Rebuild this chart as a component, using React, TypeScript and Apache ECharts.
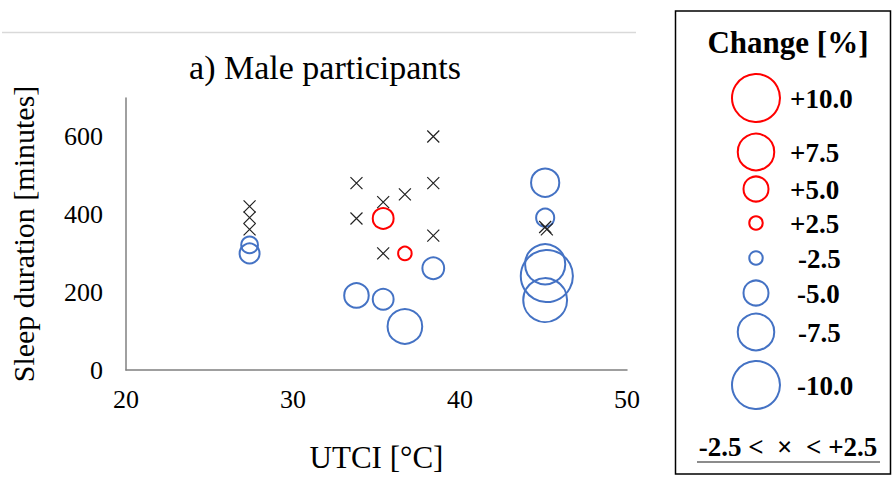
import React, { useEffect, useRef } from "react";
import * as echarts from "echarts";

// Crosses: change between -2.5 and +2.5 [UTCI °C, sleep minutes]
const crossPoints: number[][] = [
  [27.4, 421], [27.4, 392], [27.4, 362],
  [33.8, 481], [33.8, 390],
  [35.4, 432], [35.4, 300],
  [36.7, 452],
  [38.4, 601], [38.4, 481], [38.4, 346],
  [45.1, 368], [45.2, 362],
];

// Positive change bubbles [UTCI, minutes, change %]
const positivePoints: number[][] = [
  [35.4, 390, 4.1],
  [36.7, 300, 2.5],
];

// Negative change bubbles [UTCI, minutes, change %]
const negativePoints: number[][] = [
  [27.4, 322, -3.2],
  [27.4, 300, -3.9],
  [38.4, 262, -4.3],
  [33.8, 192, -4.9],
  [35.4, 182, -4.1],
  [36.7, 112, -7.1],
  [45.1, 482, -5.7],
  [45.1, 392, -3.5],
  [45.1, 272, -8.3],
  [45.2, 242, -10.9],
  [45.1, 180, -9.1],
];

const legendValues = [10, 7.5, 5, 2.5, -2.5, -5, -7.5, -10];
const legendY = [98, 152, 189, 223, 258, 293, 332, 385];
const legendLabelX = [790, 790, 790, 790, 798, 797, 798, 797];

const xTicks = { min: 20, max: 50, interval: 10 };
const yTicks = { min: 0, max: 700, interval: 200 };

const RED = "#FF0000";
const BLUE = "#4472C4";
const SERIF = "'Liberation Serif', 'Times New Roman', serif";

const bubbleSize = (v: number) => 4.6 * Math.abs(v) + 2;

export default function App() {
  const ref = useRef<HTMLDivElement>(null);
  useEffect(() => {
    if (!ref.current) return;
    const chart = echarts.init(ref.current, null, { renderer: "svg" });

    const legendGraphics: any[] = [];
    legendValues.forEach((v, i) => {
      legendGraphics.push({
        type: "circle",
        shape: { cx: 756, cy: legendY[i], r: bubbleSize(v) / 2 },
        style: { fill: "none", stroke: v > 0 ? RED : BLUE, lineWidth: 2 },
      });
      legendGraphics.push({
        type: "text",
        x: legendLabelX[i],
        y: legendY[i] + 1,
        style: {
          text: (v > 0 ? "+" : "") + v.toFixed(1),
          font: `bold 27px ${SERIF}`,
          fill: "#000",
          textAlign: "left",
          textVerticalAlign: "middle",
        },
      });
    });

    chart.setOption({
      animation: false,
      backgroundColor: "#fff",
      grid: { left: 112, right: 265, top: 98, bottom: 88 },
      xAxis: {
        type: "value",
        min: xTicks.min,
        max: xTicks.max,
        interval: xTicks.interval,
        name: "UTCI [°C]",
        nameLocation: "middle",
        nameGap: 72,
        nameTextStyle: { fontFamily: SERIF, fontSize: 31, color: "#000" },
        axisLine: { show: true, lineStyle: { color: "#808080", width: 1.5 } },
        axisTick: { show: false },
        splitLine: { show: false },
        axisLabel: { fontFamily: SERIF, fontSize: 26, color: "#000", margin: 16 },
      },
      yAxis: {
        type: "value",
        min: yTicks.min,
        max: yTicks.max,
        interval: yTicks.interval,
        name: "Sleep duration [minutes]",
        nameLocation: "middle",
        nameGap: 88,
        nameTextStyle: { fontFamily: SERIF, fontSize: 30, color: "#000" },
        axisLine: { show: true, lineStyle: { color: "#808080", width: 1.5 } },
        axisTick: { show: false },
        splitLine: { show: false },
        axisLabel: { fontFamily: SERIF, fontSize: 26, color: "#000", margin: 23, showMaxLabel: false },
      },
      series: [
        {
          type: "scatter",
          data: negativePoints,
          symbol: "circle",
          symbolSize: (d: number[]) => bubbleSize(d[2]),
          itemStyle: { color: "rgba(0,0,0,0)", borderColor: BLUE, borderWidth: 2, opacity: 1 },
          z: 2,
        },
        {
          type: "scatter",
          data: positivePoints,
          symbol: "circle",
          symbolSize: (d: number[]) => bubbleSize(d[2]),
          itemStyle: { color: "rgba(0,0,0,0)", borderColor: RED, borderWidth: 2, opacity: 1 },
          z: 2,
        },
        {
          type: "scatter",
          data: crossPoints,
          symbol: "path://M0,0L10,10M10,0L0,10",
          symbolSize: 12,
          itemStyle: { color: "rgba(0,0,0,0)", borderColor: "#222", borderWidth: 1.2, opacity: 1 },
          z: 3,
        },
      ],
      graphic: [
        {
          type: "line",
          shape: { x1: 2, y1: 32.5, x2: 636, y2: 32.5 },
          style: { stroke: "#d9d9d9", lineWidth: 1.5 },
        },
        {
          type: "text",
          x: 325,
          y: 67,
          style: {
            text: "a) Male participants",
            font: `34px ${SERIF}`,
            fill: "#000",
            textAlign: "center",
            textVerticalAlign: "middle",
          },
        },
        {
          type: "rect",
          shape: { x: 675.5, y: 11, width: 215, height: 463 },
          style: { fill: "none", stroke: "#000", lineWidth: 1.5 },
        },
        {
          type: "text",
          x: 788,
          y: 42,
          style: {
            text: "Change [%]",
            font: `bold 31px ${SERIF}`,
            fill: "#000",
            textAlign: "center",
            textVerticalAlign: "middle",
          },
        },
        ...legendGraphics,
        {
          type: "text",
          x: 788,
          y: 447,
          style: {
            text: "-2.5 <  ×  < +2.5",
            font: `bold 27px ${SERIF}`,
            fill: "#000",
            textAlign: "center",
            textVerticalAlign: "middle",
          },
        },
        {
          type: "line",
          shape: { x1: 697, y1: 462, x2: 880, y2: 462 },
          style: { stroke: "#666", lineWidth: 1.5 },
        },
      ],
    });
    return () => chart.dispose();
  }, []);
  return (
    <div
      ref={ref}
      style={{ position: "absolute", left: 0, top: 0, width: 892, height: 478 }}
    />
  );
}
